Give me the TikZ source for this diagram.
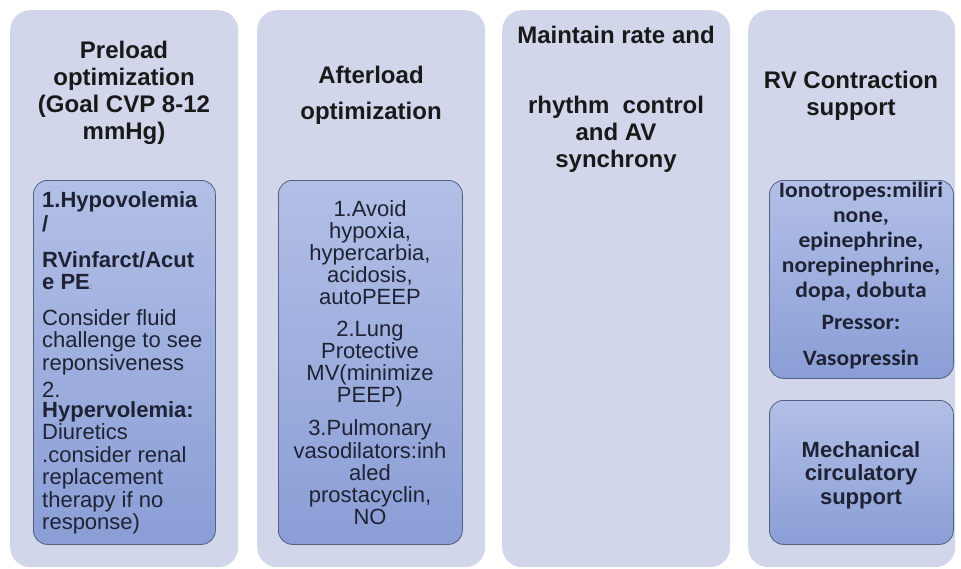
\documentclass[tikz,border=0pt]{standalone}
\usepackage{fontspec}
\setmainfont{Liberation Sans}
\newfontfamily\calibfont{Carlito}[FakeStretch=1.07]
\usetikzlibrary{positioning}
\definecolor{outerfill}{HTML}{D1D6EB}
\definecolor{innertop}{HTML}{B2BFE6}
\definecolor{innerbot}{HTML}{8A9ED6}
\definecolor{innerline}{HTML}{52617F}
\definecolor{inktext}{HTML}{1E2233}

\begin{document}
\begin{tikzpicture}[x=1pt,y=-1pt,
    colbox/.style={fill=outerfill, rounded corners=20pt, inner sep=0pt, anchor=north west},
    subbox/.style={draw=innerline, line width=0.8pt, top color=innertop, bottom color=innerbot,
                   rounded corners=14pt, inner sep=0pt, anchor=north west},
    head/.style={font=\fontsize{24}{27}\selectfont\bfseries, align=center, anchor=north,
                 inner sep=0pt, text=black!90},
    body/.style={font=\fontsize{22}{22.5}\selectfont, text=inktext, inner sep=0pt, anchor=north}]
    \useasboundingbox (0,0) rectangle (961,568);

    % the four columns
    \node[colbox, minimum width=228pt, minimum height=557pt] (preload) at (10,10) {};
    \node[colbox, minimum width=228pt, minimum height=557pt] (afterload) at (257,10) {};
    \node[colbox, minimum width=228pt, minimum height=557pt] (rhythm) at (502,10) {};
    \node[colbox, minimum width=207pt, minimum height=557pt] (contract) at (748,10) {};

    % inner boxes
    \node[subbox, minimum width=182pt, minimum height=364pt] (preloadIn) at (33,180) {};
    \node[subbox, minimum width=184pt, minimum height=364pt] (afterloadIn) at (278,180) {};
    \node[subbox, minimum width=184pt, minimum height=198pt] (inotrope) at (769,180) {};
    \node[subbox, minimum width=184pt, minimum height=144pt] (mcs) at (769,400) {};

    % headings
    \node[head] (preloadT) at (124,41) {Preload\\optimization\\(Goal CVP 8-12\\mmHg)};
    \node[head, font=\fontsize{24}{36}\selectfont\bfseries] (afterloadT) at (371,66)
        {Afterload\\optimization};
    \node[head] (rhythmT) at (616,26)
        {Maintain rate and\\[43pt]rhythm\ \ control\\and AV\\synchrony};
    \node[head] (contractT) at (851,71) {RV Contraction\\support};

    % texts in the inner boxes
    \node[body, align=left, anchor=north west] (preloadTxt) at (42,191)
        {{\bfseries 1.Hypovolemia}\\[2pt]
         {\bfseries /}\\[13pt]
         {\bfseries RVinfarct/Acut}\\
         {\bfseries e PE}{\fontsize{8}{8}\selectfont:}\\[13pt]
         Consider fluid\\
         challenge to see\\
         reponsiveness\\[5pt]
         2.\\[-3pt]
         {\bfseries Hypervolemia:}\\
         Diuretics\\
         .consider renal\\
         replacement\\
         therapy if no\\
         response)};
    \node[body, font=\fontsize{22}{22.2}\selectfont, align=center] (afterloadTxt) at (370,200)
        {1.Avoid\\hypoxia,\\hypercarbia,\\acidosis,\\autoPEEP\\[9pt]
         2.Lung\\Protective\\MV(minimize\\PEEP)\\[11pt]
         3.Pulmonary\\vasodilators:inh\\aled\\prostacyclin,\\NO};
    \node[body, font=\calibfont\fontsize{22}{25}\selectfont\bfseries, align=center] (inotropeTxt) at (861,182)
        {Ionotropes:miliri\\none,\\epinephrine,\\norepinephrine,\\dopa, dobuta\\[7pt]
         Pressor:\\[11pt]Vasopressin};
    \node[body, font=\fontsize{22}{23.5}\selectfont\bfseries, align=center] (mcsTxt) at (861,441)
        {Mechanical\\circulatory\\support};
\end{tikzpicture}
\end{document}
